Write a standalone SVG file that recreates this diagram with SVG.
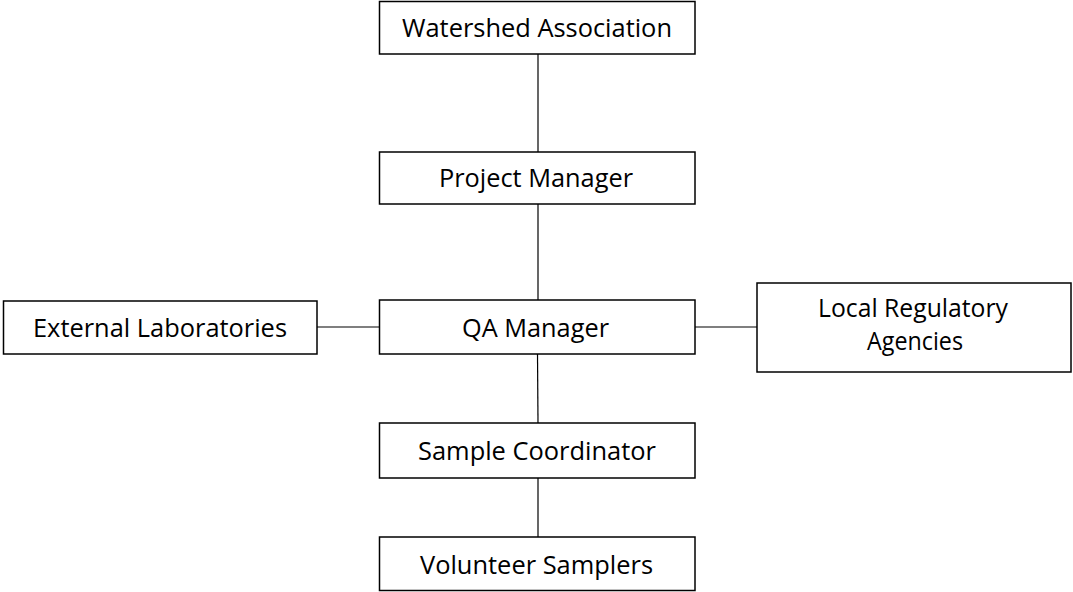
<svg xmlns="http://www.w3.org/2000/svg" width="1073" height="592" viewBox="0 0 1073 592">
<style>
.box{fill:#fff;stroke:#000;stroke-width:1.5}
.lbl{font-family:"Open Sans","Liberation Sans",sans-serif;font-size:25px;fill:#000;text-anchor:middle}
.conn line{stroke:#000;stroke-width:1.2}
</style>
<rect width="1073" height="592" fill="#fff"/>
<g id="connectors" class="conn">
<line x1="538" y1="54" x2="538" y2="152"/>
<line x1="538" y1="204" x2="538" y2="300"/>
<line x1="317" y1="327" x2="379" y2="327"/>
<line x1="695" y1="327" x2="757" y2="327"/>
<line x1="537.5" y1="354" x2="538" y2="423"/>
<line x1="538" y1="478" x2="538" y2="537"/>
</g>
<g id="watershed"><rect class="box" x="379.5" y="1.5" width="315.5" height="52.5"/><text class="lbl" x="537" y="37" textLength="270" lengthAdjust="spacingAndGlyphs">Watershed Association</text></g>
<g id="project"><rect class="box" x="379.5" y="152" width="315.5" height="52"/><text class="lbl" x="536" y="187" textLength="194" lengthAdjust="spacingAndGlyphs">Project Manager</text></g>
<g id="qa"><rect class="box" x="379.5" y="300" width="315.5" height="54"/><text class="lbl" x="535.5" y="337" textLength="147" lengthAdjust="spacingAndGlyphs">QA Manager</text></g>
<g id="external"><rect class="box" x="3.5" y="301" width="313.5" height="53"/><text class="lbl" x="160" y="337" textLength="254" lengthAdjust="spacingAndGlyphs">External Laboratories</text></g>
<g id="local"><rect class="box" x="757" y="283" width="314" height="89"/><text class="lbl" x="913" y="317" textLength="190" lengthAdjust="spacingAndGlyphs">Local Regulatory</text><text class="lbl" x="915" y="350" textLength="96" lengthAdjust="spacingAndGlyphs">Agencies</text></g>
<g id="sample"><rect class="box" x="379.5" y="423" width="315.5" height="55"/><text class="lbl" x="537" y="460" textLength="238" lengthAdjust="spacingAndGlyphs">Sample Coordinator</text></g>
<g id="volunteer"><rect class="box" x="379.5" y="537" width="315.5" height="53.5"/><text class="lbl" x="536.5" y="574" textLength="233" lengthAdjust="spacingAndGlyphs">Volunteer Samplers</text></g>
</svg>
